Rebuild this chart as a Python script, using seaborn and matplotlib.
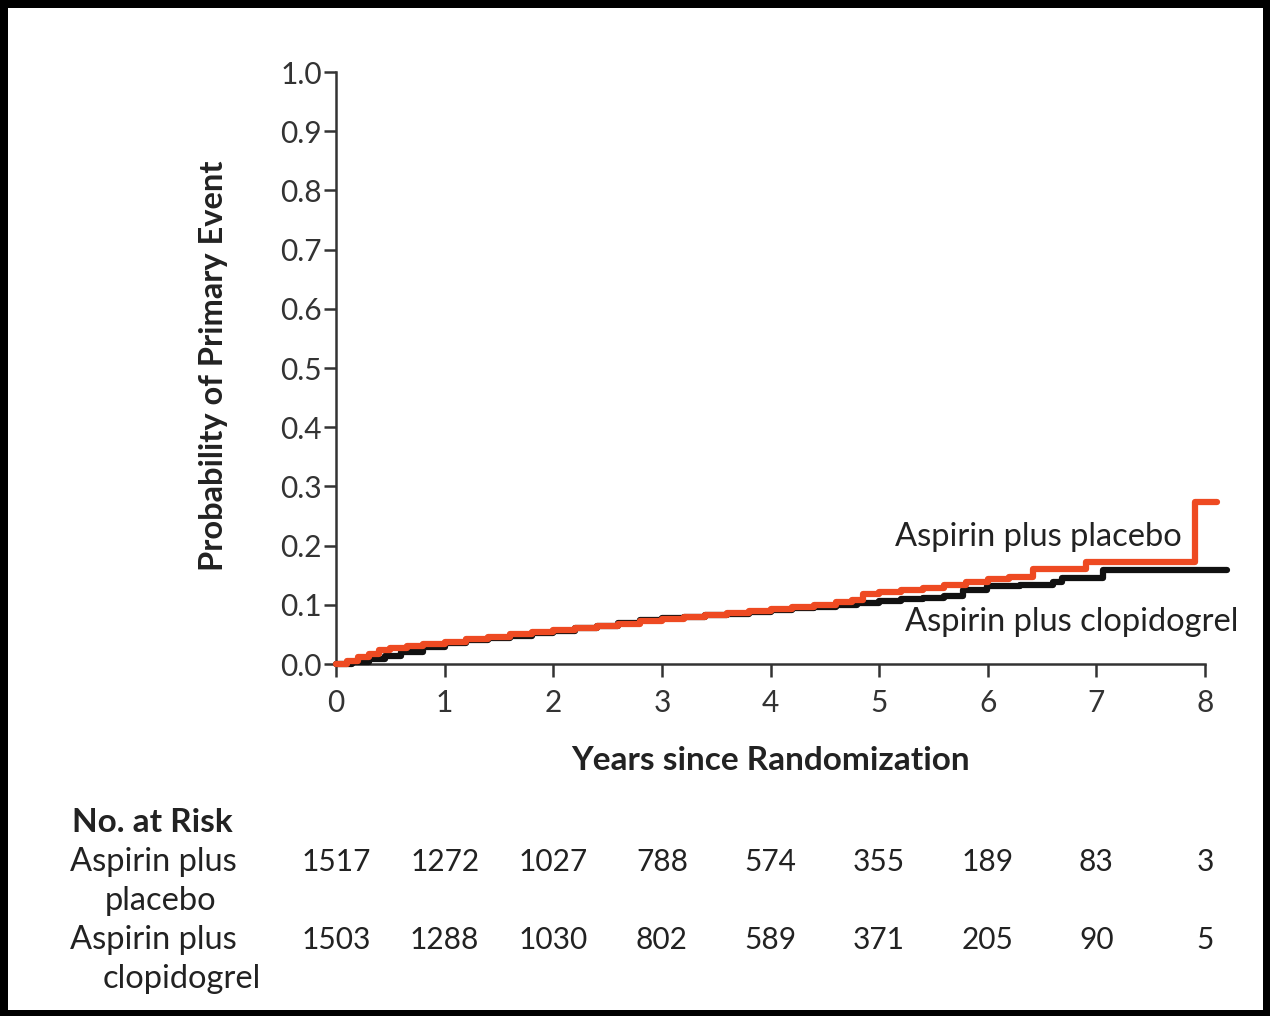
import matplotlib
matplotlib.use("Agg")
import matplotlib.pyplot as plt
from matplotlib.patches import Rectangle
import seaborn as sns
import pandas as pd

# ---- data ----
placebo_t = [0, 0.1, 0.2, 0.3, 0.4, 0.5, 0.65, 0.8, 1.0, 1.2, 1.4, 1.6, 1.8, 2.0, 2.2, 2.4,
             2.6, 2.8, 3.0, 3.2, 3.4, 3.6, 3.8, 4.0, 4.2, 4.4, 4.6, 4.75, 4.85, 5.0, 5.2,
             5.4, 5.6, 5.8, 6.0, 6.2, 6.42, 6.9, 7.91, 8.11]
placebo_p = [0, 0.005, 0.011, 0.017, 0.023, 0.027, 0.030, 0.034, 0.038, 0.042, 0.046, 0.050,
             0.054, 0.058, 0.061, 0.064, 0.068, 0.072, 0.076, 0.079, 0.082, 0.086, 0.090,
             0.093, 0.097, 0.100, 0.104, 0.108, 0.118, 0.122, 0.125, 0.129, 0.133, 0.139,
             0.143, 0.147, 0.161, 0.172, 0.274, 0.274]

clop_t = [0, 0.15, 0.3, 0.45, 0.6, 0.8, 1.0, 1.2, 1.4, 1.6, 1.8, 2.0, 2.2, 2.4, 2.6, 2.8,
          3.0, 3.2, 3.4, 3.6, 3.8, 4.0, 4.2, 4.4, 4.6, 4.8, 5.0, 5.2, 5.4, 5.6, 5.77, 5.99,
          6.3, 6.6, 6.68, 7.06, 8.2]
clop_p = [0, 0.003, 0.008, 0.014, 0.021, 0.029, 0.035, 0.040, 0.044, 0.048, 0.052, 0.056,
          0.060, 0.064, 0.070, 0.074, 0.077, 0.079, 0.082, 0.085, 0.088, 0.091, 0.094,
          0.097, 0.100, 0.103, 0.106, 0.109, 0.112, 0.115, 0.125, 0.131, 0.133, 0.139,
          0.145, 0.158, 0.158]

groups = ["Aspirin plus placebo", "Aspirin plus clopidogrel"]
risk_times = [0, 1, 2, 3, 4, 5, 6, 7, 8]
risk_placebo = [1517, 1272, 1027, 788, 574, 355, 189, 83, 3]
risk_clop = [1503, 1288, 1030, 802, 589, 371, 205, 90, 5]
y_ticks = [0.0, 0.1, 0.2, 0.3, 0.4, 0.5, 0.6, 0.7, 0.8, 0.9, 1.0]
x_ticks = [0, 1, 2, 3, 4, 5, 6, 7, 8]

df = pd.concat([
    pd.DataFrame({"t": placebo_t, "p": placebo_p, "g": groups[0]}),
    pd.DataFrame({"t": clop_t, "p": clop_p, "g": groups[1]}),
], ignore_index=True)

sns.set_theme(style="white")
plt.rcParams["font.family"] = ["Lato", "DejaVu Sans"]

W, H = 1270, 1016
fig = plt.figure(figsize=(W / 100, H / 100), dpi=100, facecolor="black")
fig.patches.append(Rectangle((8 / W, 6 / H), (1263 - 8) / W, (1010 - 6 - 2) / H,
                             transform=fig.transFigure, facecolor="white",
                             edgecolor="none", zorder=-10))

x0, x8 = 336, 1205
ppy = (x8 - x0) / 8
xmax = 8.25
ytop, ybot = 72, 664
ax = fig.add_axes([x0 / W, (H - ybot) / H, xmax * ppy / W, (ybot - ytop) / H])
ax.set_facecolor("none")

palette = {groups[0]: "#EE4A22", groups[1]: "#111111"}
sns.lineplot(data=df[df.g == groups[1]], x="t", y="p", hue="g", palette=palette,
             estimator=None, sort=False, drawstyle="steps-post", linewidth=4.5,
             legend=False, ax=ax, clip_on=False, zorder=3)
sns.lineplot(data=df[df.g == groups[0]], x="t", y="p", hue="g", palette=palette,
             estimator=None, sort=False, drawstyle="steps-post", linewidth=4.5,
             legend=False, ax=ax, clip_on=False, zorder=4)

ax.set_xlim(0, xmax)
ax.set_ylim(0, 1.0)
ax.set_xticks(x_ticks)
ax.set_yticks(y_ticks)
ax.set_yticklabels([f"{v:.1f}" for v in y_ticks])
ax.set_xlabel("")
ax.set_ylabel("")
for s in ["top", "right"]:
    ax.spines[s].set_visible(False)
for s in ["left", "bottom"]:
    ax.spines[s].set_color("#333333")
    ax.spines[s].set_linewidth(1.8)
ax.spines["bottom"].set_bounds(0, 8)
ax.tick_params(axis="both", which="major", direction="out", length=9, width=1.8,
               color="#333333", labelcolor="#333333", labelsize=21.5, left=True, bottom=True)
ax.tick_params(axis="y", pad=1)
ax.tick_params(axis="x", pad=9)

TS = 23.5
ax.text(5.15, 0.2145, "Aspirin plus placebo", fontsize=TS, color="#222222", va="center", ha="left")
ax.text(5.24, 0.071, "Aspirin plus clopidogrel", fontsize=TS, color="#222222", va="center", ha="left")

fig.text(213 / W, 1 - 366 / H, "Probability of Primary Event", rotation=90, fontsize=23.5,
         fontweight="bold", color="#222222", ha="center", va="center")
fig.text(770 / W, 1 - 760 / H, "Years since Randomization", fontsize=24,
         fontweight="bold", color="#222222", ha="center", va="center")

# number at risk
fig.text(72 / W, 1 - 822 / H, "No. at Risk", fontsize=24, fontweight="bold",
         color="#222222", ha="left", va="center")
fig.text(70 / W, 1 - 862 / H, "Aspirin plus", fontsize=TS, color="#222222", ha="left", va="center")
fig.text(105 / W, 1 - 901 / H, "placebo", fontsize=TS, color="#222222", ha="left", va="center")
fig.text(70 / W, 1 - 940 / H, "Aspirin plus", fontsize=TS, color="#222222", ha="left", va="center")
fig.text(103 / W, 1 - 979 / H, "clopidogrel", fontsize=TS, color="#222222", ha="left", va="center")
for t, a, b in zip(risk_times, risk_placebo, risk_clop):
    xf = (x0 + t * ppy) / W
    fig.text(xf, 1 - 862 / H, str(a), fontsize=21.5, color="#222222", ha="center", va="center")
    fig.text(xf, 1 - 940 / H, str(b), fontsize=21.5, color="#222222", ha="center", va="center")

fig.savefig("out.png", dpi=100, facecolor="black")
